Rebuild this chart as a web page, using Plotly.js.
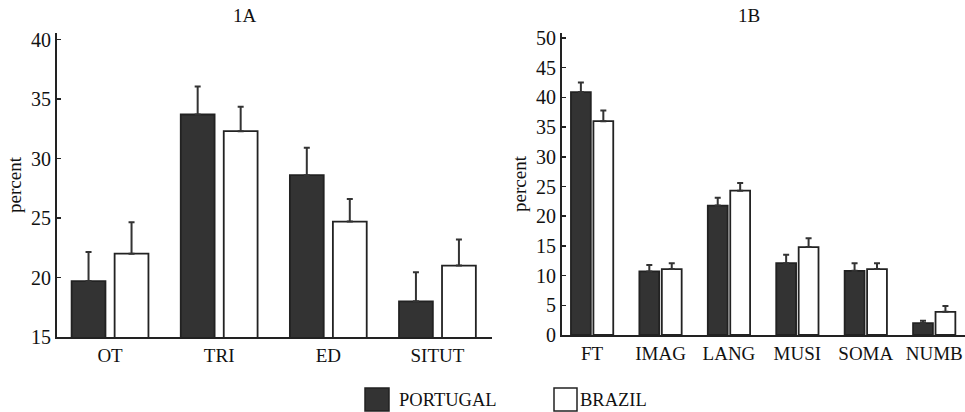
<!DOCTYPE html>
<html>
<head>
<meta charset="utf-8">
<script src="https://cdn.plot.ly/plotly-3.0.1.min.js"></script>
<style>html,body{margin:0;padding:0;background:#fff;}#chart{width:965px;height:412px;}</style>
</head>
<body>
<div id="chart"></div>
<script>
var catsA = ['OT', 'TRI', 'ED', 'SITUT'];
var portA = [19.7, 33.7, 28.6, 18.0];
var portAErr = [2.45, 2.35, 2.3, 2.45];
var brazA = [22.0, 32.3, 24.7, 21.0];
var brazAErr = [2.65, 2.05, 1.9, 2.2];

var catsB = ['FT', 'IMAG', 'LANG', 'MUSI', 'SOMA', 'NUMB'];
var portB = [40.9, 10.7, 21.8, 12.1, 10.8, 2.0];
var portBErr = [1.6, 1.1, 1.3, 1.4, 1.3, 0.4];
var brazB = [36.0, 11.1, 24.3, 14.8, 11.1, 3.9];
var brazBErr = [1.8, 1.0, 1.3, 1.5, 1.0, 1.0];

var seriesNames = ['PORTUGAL', 'BRAZIL'];

function zeros(n){ var a=[]; for(var i=0;i<n;i++) a.push(0); return a; }

var dark = '#333333', edge = '#222222';
var fnt = 'Liberation Serif, Times New Roman, serif';

function barTrace(x, y, err, fill, name, xa, ya, off, w){
  return {
    type: 'bar', x: x, y: y, name: name, xaxis: xa, yaxis: ya,
    offset: off, width: w, showlegend: false,
    marker: {color: fill, line: {color: edge, width: 1.8}},
    error_y: {type: 'data', symmetric: false, array: err, arrayminus: zeros(err.length),
              color: dark, thickness: 2, width: 3}
  };
}

var data = [
  barTrace(catsA, portA, portAErr, dark, seriesNames[0], 'x', 'y', -0.352, 0.31),
  barTrace(catsA, brazA, brazAErr, '#ffffff', seriesNames[1], 'x', 'y', 0.042, 0.31),
  barTrace(catsB, portB, portBErr, dark, seriesNames[0], 'x2', 'y2', -0.309, 0.29),
  barTrace(catsB, brazB, brazBErr, '#ffffff', seriesNames[1], 'x2', 'y2', 0.019, 0.29)
];

var W = 908, H = 304, L = 57, T = 33;
function px(x){ return (x - L) / W; }
function py(y){ return (337 - y) / H; }

var axCommonX = {
  type: 'category', showline: true, linecolor: edge, linewidth: 2, ticks: '',
  showgrid: false, zeroline: false, tickfont: {family: fnt, size: 19, color: '#111'}, fixedrange: true
};
var axCommonY = {
  showline: true, linecolor: edge, linewidth: 2, ticks: 'inside', ticklen: 4, tickwidth: 1.5,
  tickcolor: edge, showgrid: false, zeroline: false, tickfont: {family: fnt, size: 20, color: '#111'},
  dtick: 5, fixedrange: true
};

var layout = {
  width: 965, height: 412,
  margin: {l: L, r: 0, t: T, b: 75},
  paper_bgcolor: '#fff', plot_bgcolor: '#fff',
  font: {family: fnt, color: '#111'},
  barmode: 'group',
  showlegend: false,
  xaxis: Object.assign({}, axCommonX, {domain: [0, px(492)], range: [-0.486, 3.5], anchor: 'y'}),
  yaxis: Object.assign({}, axCommonY, {domain: [0, 1], range: [15, 40.55], anchor: 'x',
    title: {text: 'percent', standoff: 4, font: {family: fnt, size: 19, color: '#111'}}}),
  xaxis2: Object.assign({}, axCommonX, {domain: [px(562), 1], range: [-0.44, 5.45], anchor: 'y2'}),
  yaxis2: Object.assign({}, axCommonY, {domain: [py(335), 1], range: [0, 50.85], anchor: 'x2',
    title: {text: 'percent', standoff: 4, font: {family: fnt, size: 19, color: '#111'}}}),
  annotations: [
    {text: '1A', xref: 'paper', yref: 'paper', x: px(245), y: py(16), xanchor: 'center', yanchor: 'middle',
     showarrow: false, font: {family: fnt, size: 19, color: '#111'}},
    {text: '1B', xref: 'paper', yref: 'paper', x: px(749), y: py(16), xanchor: 'center', yanchor: 'middle',
     showarrow: false, font: {family: fnt, size: 19, color: '#111'}},
    {text: seriesNames[0], xref: 'paper', yref: 'paper', x: px(397), y: py(400), xanchor: 'left', yanchor: 'middle',
     showarrow: false, font: {family: fnt, size: 18.5, color: '#111'}},
    {text: seriesNames[1], xref: 'paper', yref: 'paper', x: px(578), y: py(400), xanchor: 'left', yanchor: 'middle',
     showarrow: false, font: {family: fnt, size: 18.5, color: '#111'}}
  ],
  shapes: [
    {type: 'rect', xref: 'paper', yref: 'paper', x0: px(365), x1: px(389), y0: py(388), y1: py(411),
     fillcolor: dark, line: {color: edge, width: 1.5}},
    {type: 'rect', xref: 'paper', yref: 'paper', x0: px(554), x1: px(577), y0: py(388), y1: py(411),
     fillcolor: '#fff', line: {color: edge, width: 1.5}}
  ]
};

Plotly.newPlot('chart', data, layout, {displayModeBar: false, staticPlot: true});
</script>
</body>
</html>
